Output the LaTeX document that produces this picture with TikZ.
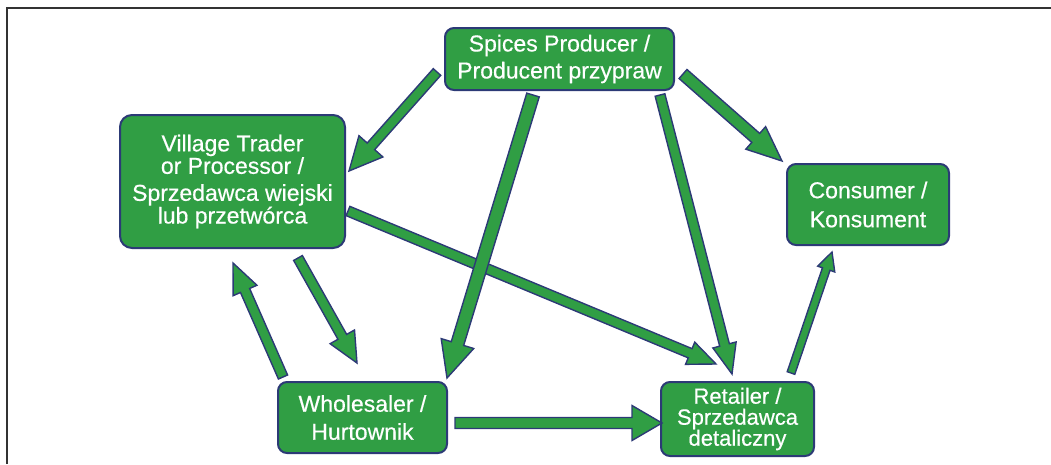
\documentclass[tikz,border=0pt]{standalone}
\usepackage{fontspec}
\setmainfont{Liberation Sans}
\newfontfamily\boxfont[FakeBold=0.5]{Liberation Sans}
\usetikzlibrary{calc}
\definecolor{boxgreen}{RGB}{48,158,68}
\definecolor{navyline}{RGB}{44,58,118}
\newcommand\blockarrow[5]{%
  \coordinate (ba-n) at ($(#2)!#5!(#1)$);
  \draw[blockarr] ($(#1)!#3!90:(#2)$) -- ($(ba-n)!#3!90:(#2)$) -- ($(ba-n)!#4!90:(#2)$) -- (#2)
     -- ($(ba-n)!#4!-90:(#2)$) -- ($(ba-n)!#3!-90:(#2)$) -- ($(#1)!#3!-90:(#2)$) -- cycle;}
\begin{document}
\begin{tikzpicture}[x=1pt,y=-1pt,
  box/.style={rectangle, rounded corners=9pt, fill=boxgreen, draw=navyline, line width=2pt,
    text=white, align=center, inner sep=0pt},
  blockarr/.style={fill=boxgreen, draw=navyline, line width=1.4pt, line join=miter}]
\useasboundingbox (0,0) rectangle (1051,464);
\draw[line width=2pt, black!80] (7,464) -- (7,8) -- (1051,8);

% nodes
\node[box, minimum width=229pt, minimum height=62pt, font=\boxfont\fontsize{23}{27}\selectfont] (prod) at (559.5,59)
  {Spices Producer /\\Producent przypraw};
\node[box, rounded corners=12pt, minimum width=225pt, minimum height=133pt, font=\boxfont\fontsize{23}{21}\selectfont] (vill) at (232.5,181.5)
  {Village Trader\\or Processor /\\[6pt]Sprzedawca wiejski\\lub przetwórca};
\node[box, minimum width=162pt, minimum height=81pt, font=\boxfont\fontsize{23}{29}\selectfont] (cons) at (868,204.5)
  {Consumer /\\Konsument};
\node[box, minimum width=169pt, minimum height=71pt, font=\boxfont\fontsize{23}{28}\selectfont] (whol) at (362.5,417.5)
  {Wholesaler /\\Hurtownik};
\node[box, minimum width=153pt, minimum height=74pt, font=\boxfont\fontsize{22}{21}\selectfont] (ret) at (737.5,419)
  {Retailer /\\Sprzedawca\\detaliczny};

% arrow end points
\coordinate (pv-s) at (437,72);   \coordinate (pv-e) at (349,171);
\coordinate (pc-s) at (683,74);   \coordinate (pc-e) at (782,161);
\coordinate (pw-s) at (533,95);   \coordinate (pw-e) at (447,378);
\coordinate (pr-s) at (660,95);   \coordinate (pr-e) at (732,374);
\coordinate (vr-s) at (348,211);  \coordinate (vr-e) at (716,364);
\coordinate (vw-s) at (298,258);  \coordinate (vw-e) at (357,363);
\coordinate (wv-s) at (283,377);  \coordinate (wv-e) at (233,263);
\coordinate (wr-s) at (455,423);  \coordinate (wr-e) at (662,423);
\coordinate (rc-s) at (791,373);  \coordinate (rc-e) at (832,252);

% arrows
\blockarrow{pv-s}{pv-e}{5pt}{16pt}{33pt}
\blockarrow{pc-s}{pc-e}{6pt}{15pt}{35pt}
\blockarrow{vr-s}{vr-e}{5pt}{12pt}{28pt}
\blockarrow{pw-s}{pw-e}{6.5pt}{17pt}{36pt}
\blockarrow{pr-s}{pr-e}{5pt}{12pt}{30pt}
\blockarrow{vw-s}{vw-e}{5pt}{14pt}{30pt}
\blockarrow{wv-s}{wv-e}{5pt}{13pt}{30pt}
\blockarrow{wr-s}{wr-e}{5.5pt}{17.5pt}{30pt}
\blockarrow{rc-s}{rc-e}{4pt}{9pt}{18pt}
\end{tikzpicture}
\end{document}
